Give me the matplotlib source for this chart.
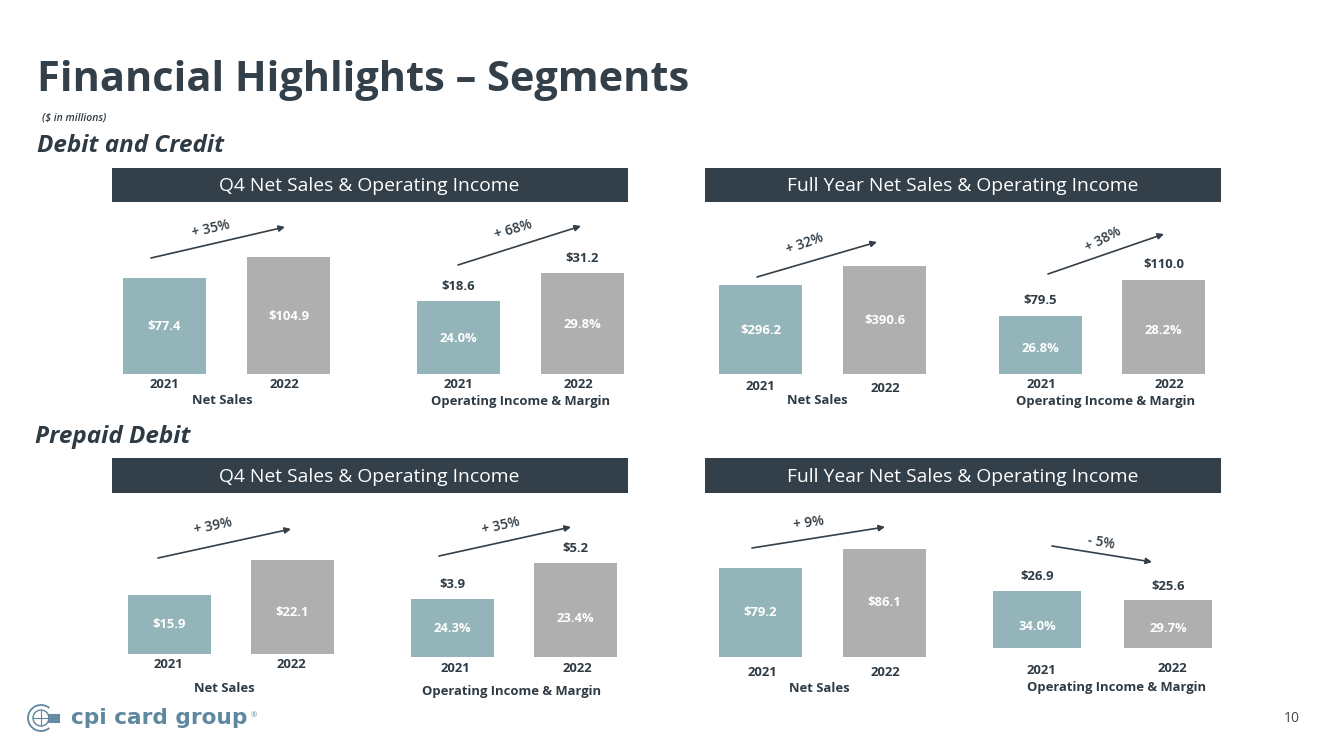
import matplotlib
matplotlib.use("Agg")
import matplotlib.pyplot as plt
from matplotlib.patches import Rectangle, Circle, Arc, FancyArrowPatch

W, H = 1333, 749
NAVY = "#333f49"
TEAL = "#93b5ba"
GREY = "#afafaf"
TXT = "#2f3b44"
years = ["2021", "2022"]

q4_dc_sales = [77.4, 104.9]
q4_dc_income = [18.6, 31.2]
q4_dc_margin = ["24.0%", "29.8%"]
fy_dc_sales = [296.2, 390.6]
fy_dc_income = [79.5, 110.0]
fy_dc_margin = ["26.8%", "28.2%"]
q4_pp_sales = [15.9, 22.1]
q4_pp_income = [3.9, 5.2]
q4_pp_margin = ["24.3%", "23.4%"]
fy_pp_sales = [79.2, 86.1]
fy_pp_income = [26.9, 25.6]
fy_pp_margin = ["34.0%", "29.7%"]

plt.rcParams["font.family"] = ["Open Sans", "DejaVu Sans"]
fig = plt.figure(figsize=(W / 100, H / 100), dpi=100, facecolor="white")
bg = fig.add_axes([0, 0, 1, 1], zorder=5)
bg.set_xlim(0, W); bg.set_ylim(H, 0); bg.axis("off"); bg.patch.set_alpha(0)

def T(x, y, s, size=9.4, weight="bold", color=TXT, rot=0, ha="center", style="normal", family=None):
    kw = {"family": family} if family else {}
    bg.text(x, y, s, fontsize=size, fontweight=weight, color=color, rotation=rot,
            ha=ha, va="center", fontstyle=style, rotation_mode="anchor", **kw)

def panel(vals, inner, l0, l1, w, t0, t1, b, xl, yl, title, title_xy, arrow, pct, pct_xy, pct_rot,
          inner_y, outer=None, outer_y=None):
    # axes spanning the two bars; the slide's bars share a baseline on a non-zero scale
    top = min(t0, t1)
    ax = fig.add_axes([l0 / W, 1 - b / H, (l1 + w - l0) / W, (b - top) / H])
    s = (t0 - t1) / (vals[1] - vals[0])
    ymin = vals[0] - (b - t0) / s
    ymax = ymin + (b - top) / s
    ww = w / (l1 - l0)
    ax.bar([0, 1], [v - ymin for v in vals], width=ww, color=[TEAL, GREY], bottom=ymin)
    ax.set_xlim(-ww / 2, 1 + ww / 2)
    ax.set_ylim(ymin, ymax)
    ax.axis("off")
    cx = [l0 + w / 2, l1 + w / 2]
    for i in range(2):
        T(cx[i], inner_y[i], inner[i], color="white")
        if outer:
            T(cx[i], outer_y[i], outer[i])
        T(xl[i], yl[i], years[i])
    T(title_xy[0], title_xy[1], title)
    bg.add_patch(FancyArrowPatch(arrow[:2], arrow[2:], arrowstyle="-|>", mutation_scale=9,
                                 lw=1.2, color=NAVY, shrinkA=0, shrinkB=0))
    T(pct_xy[0], pct_xy[1], pct, size=9.8, rot=pct_rot, weight="semibold")

def money(v): return [f"${x:.1f}" for x in v]

for x, y, s in [(112, 167.5, "Q4 Net Sales & Operating Income"), (705, 167.5, "Full Year Net Sales & Operating Income"),
                (112, 458, "Q4 Net Sales & Operating Income"), (705, 458, "Full Year Net Sales & Operating Income")]:
    bg.add_patch(Rectangle((x, y), 515.5, 34.5, fc=NAVY, ec="none"))
    T(x + 257.5, y + 18.5, s, size=13.85, weight="normal", color="white")

T(37, 80.5, "Financial Highlights – Segments", size=29.85, ha="left", color=NAVY)
T(42, 118, "($ in millions)", size=7.5, ha="left", style="italic", weight="semibold")
T(37, 146, "Debit and Credit", size=17.5, ha="left", style="italic")
T(35, 437, "Prepaid Debit", size=17.5, ha="left", style="italic")

panel(q4_dc_sales, money(q4_dc_sales), 123, 247, 83, 278, 257, 374, (164, 284), (384, 385), "Net Sales", (222, 401),
      (151, 258, 285, 227), "+ 35%", (211, 229), 13, (326, 316))
panel(q4_dc_income, q4_dc_margin, 417, 541, 83, 301, 273, 374, (458, 578), (384, 385), "Operating Income & Margin", (521, 402),
      (458, 265, 581, 226), "+ 68%", (513, 230), 17, (338, 325), money(q4_dc_income), (287, 259))
panel(fy_dc_sales, money(fy_dc_sales), 719, 843, 83, 285, 266, 374, (760, 885), (387, 389), "Net Sales", (817, 401),
      (757, 277, 877, 242), "+ 32%", (805, 244), 20, (330, 321))
panel(fy_dc_income, fy_dc_margin, 999, 1122, 83, 316, 280, 374, (1041, 1169), (384, 385), "Operating Income & Margin", (1106, 402),
      (1048, 274, 1164, 234), "+ 38%", (1103, 239), 28, (348, 330), money(fy_dc_income), (301, 265))
panel(q4_pp_sales, money(q4_pp_sales), 128, 251, 83, 595, 560, 654, (168, 291), (665, 665), "Net Sales", (224, 689),
      (158, 558, 291, 529), "+ 39%", (213, 526), 12, (625, 612))
panel(q4_pp_income, q4_pp_margin, 411, 534, 83, 599, 563, 657, (455, 577), (669, 669), "Operating Income & Margin", (512, 691),
      (439, 556, 571, 527), "+ 35%", (501, 526), 13, (628, 619), money(q4_pp_income), (584, 548))
panel(fy_pp_sales, money(fy_pp_sales), 719, 843, 83, 568, 549, 657, (762, 885), (672, 673), "Net Sales", (819, 688),
      (752, 548, 885, 527), "+ 9%", (809, 523), 8, (613, 603))
panel(fy_pp_income, fy_pp_margin, 993, 1124, 88, 591, 600, 648, (1041, 1172), (670, 669), "Operating Income & Margin", (1117, 687),
      (1052, 546, 1152, 562), "- 5%", (1101, 542), -10, (626, 629), money(fy_pp_income), (577, 586))

# brand mark
LOGO = "#5f87a0"
bg.add_patch(Arc((41, 718), 26, 26, theta1=50, theta2=310, ec=LOGO, lw=1.3))
bg.add_patch(Circle((41, 718), 8, fc="none", ec=LOGO, lw=1.0))
bg.plot([33, 49], [718, 718], color=LOGO, lw=0.8)
bg.plot([41, 41], [710, 726], color=LOGO, lw=0.8)
for gy in (715, 718, 721):
    bg.plot([49, 52, 55, 58], [gy] * 4, ls="none", marker="s", ms=1.3, color=LOGO)
T(71, 718, "cpi card group", size=15.6, ha="left", color=LOGO, family="DejaVu Sans")
T(254, 716, "®", size=5.5, color=LOGO, weight="normal")
T(1292, 719, "10", size=10, weight="normal", color="#444444")

fig.savefig("out.png", dpi=100)
